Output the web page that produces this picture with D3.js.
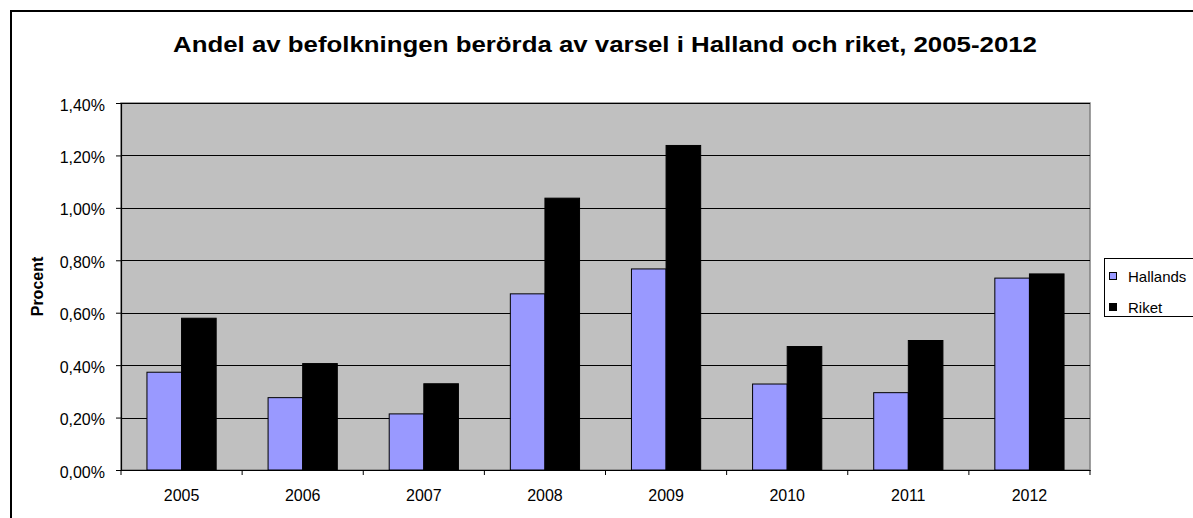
<!DOCTYPE html>
<html>
<head>
  <meta charset="utf-8">
  <style>
    body {
      margin: 0;
      background: #fff;
      font-family: Arial, "Liberation Sans", Helvetica, sans-serif;
    }
    svg { display: block; }
  </style>
</head>
<body>
  <svg id="chart"></svg>
  <script src="https://d3js.org/d3.v7.min.js"></script>
  <script>

    // DATA
    var years = ['2005', '2006', '2007', '2008', '2009', '2010', '2011', '2012'];
    var hallands = [0.373, 0.276, 0.214, 0.672, 0.767, 0.328, 0.295, 0.732];
    var riket = [0.579, 0.406, 0.329, 1.037, 1.238, 0.471, 0.494, 0.748];
    var yTicks = [0, 0.2, 0.4, 0.6, 0.8, 1.0, 1.2, 1.4];
    var seriesNames = ['Hallands', 'Riket'];
    var seriesColors = ['#9999FF', '#000000'];

    var width = 1193;
    var height = 518;
    var FONT = 'Arial, "Liberation Sans", sans-serif';

    var svg = d3.select('#chart')
      .attr('width', width)
      .attr('height', height);

    // chart frame (runs off the right and bottom edge)
    svg.append('rect')
      .attr('x', 11)
      .attr('y', 11)
      .attr('width', 1200)
      .attr('height', 520)
      .attr('fill', '#fff')
      .attr('stroke', '#000')
      .attr('stroke-width', 2);

    svg.append('text')
      .attr('x', 605)
      .attr('y', 52)
      .attr('text-anchor', 'middle')
      .attr('textLength', 864)
      .attr('lengthAdjust', 'spacingAndGlyphs')
      .style('font-family', FONT)
      .style('font-size', '22px')
      .style('font-weight', 'bold')
      .text('Andel av befolkningen berörda av varsel i Halland och riket, 2005-2012');

    var plot = { left: 121, right: 1090, top: 103, bottom: 470 };

    var x = d3.scaleBand()
      .domain(years)
      .range([plot.left, plot.right])
      .paddingInner(0)
      .paddingOuter(0);

    var y = d3.scaleLinear()
      .domain([0, 1.4])
      .range([plot.bottom, plot.top]);

    // plot background
    svg.append('rect')
      .attr('x', plot.left)
      .attr('y', plot.top)
      .attr('width', plot.right - plot.left)
      .attr('height', plot.bottom - plot.top)
      .attr('fill', '#C0C0C0')
      .attr('stroke', '#808080')
      .attr('stroke-width', 1.5);

    // gridlines
    svg.append('g')
      .selectAll('line')
      .data(yTicks.slice(1))
      .enter()
        .append('line')
          .attr('x1', plot.left)
          .attr('x2', plot.right)
          .attr('y1', d => Math.round(y(d)) + 0.5)
          .attr('y2', d => Math.round(y(d)) + 0.5)
          .attr('stroke', '#000')
          .attr('stroke-width', 1.2);

    // bars: two bars per year, gap = 1.5 bar widths
    var bw = x.bandwidth() / 3.5;
    var xs = d3.scaleBand()
      .domain(seriesNames)
      .range([0, bw * 2]);

    var series = [hallands, riket];

    series.forEach(function(vals, si) {
      svg.append('g')
        .selectAll('rect')
        .data(vals)
        .enter()
          .append('rect')
            .attr('x', (d, i) => x(years[i]) + bw * 0.75 + xs(seriesNames[si]))
            .attr('y', d => y(d))
            .attr('width', xs.bandwidth())
            .attr('height', d => y(0) - y(d))
            .attr('fill', seriesColors[si])
            .attr('stroke', '#000')
            .attr('stroke-width', 1);
    });

    // y axis
    var yAxis = d3.axisLeft(y)
      .tickValues(yTicks)
      .tickSize(5)
      .tickFormat(d => d3.format('.2f')(d).replace('.', ',') + '%');

    var gy = svg.append('g')
      .attr('transform', `translate(${plot.left},0)`)
      .call(yAxis);
    gy.select('.domain').attr('stroke', '#000').attr('stroke-width', 1.2);
    gy.selectAll('.tick line').attr('stroke', '#000');
    gy.selectAll('.tick text')
      .attr('x', -16)
      .attr('y', 2)
      .style('font-family', FONT)
      .style('font-size', '16px')
      .attr('fill', '#000');

    // x axis
    var xAxis = d3.axisBottom(x).tickSize(0);
    var gx = svg.append('g')
      .attr('transform', `translate(0,${plot.bottom})`)
      .call(xAxis);
    gx.select('.domain').attr('stroke', '#000').attr('stroke-width', 1.2);
    gx.selectAll('.tick text')
      .attr('y', 31)
      .attr('dy', 0)
      .style('font-family', FONT)
      .style('font-size', '16px')
      .attr('fill', '#000');

    // category separators on x axis
    gx.append('g')
      .selectAll('line')
      .data(years.concat(['end']))
      .enter()
        .append('line')
          .attr('x1', d => d === 'end' ? plot.right : x(d))
          .attr('x2', d => d === 'end' ? plot.right : x(d))
          .attr('y1', 0)
          .attr('y2', 5)
          .attr('stroke', '#000');

    svg.append('text')
      .attr('transform', `translate(43,${(plot.top + plot.bottom) / 2}) rotate(-90)`)
      .attr('text-anchor', 'middle')
      .style('font-family', FONT)
      .style('font-size', '16px')
      .style('font-weight', 'bold')
      .text('Procent');

    // legend
    var legend = svg.append('g');
    legend.append('rect')
      .attr('x', 1104.5)
      .attr('y', 258.5)
      .attr('width', 120)
      .attr('height', 58)
      .attr('fill', '#fff')
      .attr('stroke', '#000');

    var item = legend.selectAll('.item')
      .data(seriesNames)
      .enter()
        .append('g')
          .attr('class', 'item')
          .attr('transform', (d, i) => `translate(1109,${276 + i * 31})`);

    item.append('rect')
      .attr('x', 0.5)
      .attr('y', -3.5)
      .attr('width', 7)
      .attr('height', 7)
      .attr('fill', (d, i) => seriesColors[i])
      .attr('stroke', '#000');

    item.append('text')
      .attr('x', 19)
      .attr('y', 5.5)
      .style('font-family', FONT)
      .style('font-size', '15px')
      .text(d => d);

  </script>
</body>
</html>
